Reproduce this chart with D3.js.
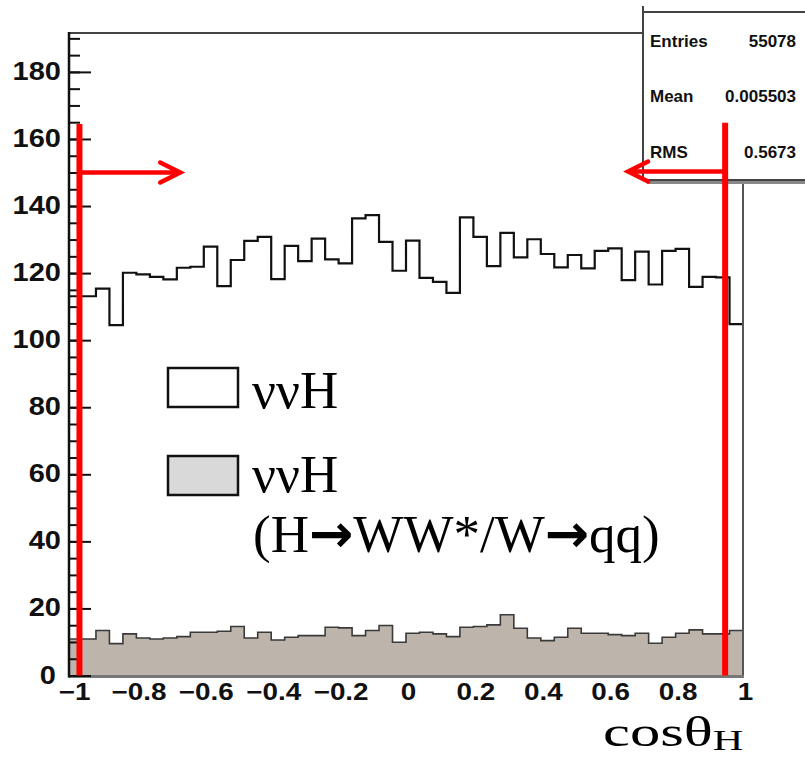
<!DOCTYPE html>
<html>
<head>
<meta charset="utf-8">
<script src="https://cdn.jsdelivr.net/npm/d3@7"></script>
<style>
  body { margin: 0; background: #fff; }
  svg { display: block; }
</style>
</head>
<body>
<svg id="chart" width="805" height="758"></svg>
<script>
"use strict";

// histogram content, 50 bins on [-1, 1]
var nBins = 50;
var xRangeVals = [-1, 1];
var totalCounts = [
  113.1, 113.1, 115.4, 104.5, 120.1, 119.6, 118.9, 118.1, 121.6, 121.9,
  127.9, 116.1, 123.9, 129.6, 130.8, 118.2, 128.1, 123.6, 130.3, 124.1,
  122.9, 136.3, 137.3, 129.3, 120.7, 129.7, 118.6, 117.4, 114.1, 136.6,
  130.8, 122.1, 132.0, 124.7, 130.1, 125.7, 121.7, 125.4, 121.4, 126.6,
  127.4, 117.9, 126.4, 116.6, 126.6, 127.2, 115.9, 118.9, 118.7, 104.8
];
var signalCounts = [
  10.9, 10.9, 13.4, 9.5, 12.4, 11.2, 10.9, 11.2, 11.6, 12.9,
  12.9, 13.2, 14.6, 11.2, 12.9, 10.6, 11.4, 11.9, 11.9, 14.4,
  14.2, 11.9, 13.4, 14.9, 9.9, 12.6, 12.9, 12.4, 11.6, 14.4,
  14.6, 15.1, 18.1, 14.1, 11.2, 10.4, 11.4, 14.1, 12.6, 12.6,
  12.2, 11.9, 12.6, 9.6, 11.4, 12.6, 13.6, 12.4, 12.4, 13.4
];

var xTicks = [-1, -0.8, -0.6, -0.4, -0.2, 0, 0.2, 0.4, 0.6, 0.8, 1];
var yTicks = [0, 20, 40, 60, 80, 100, 120, 140, 160, 180];
var yMinorTicks = d3.range(0, 191, 5);

// cut annotation (red lines + arrows)
var cuts = [
  { at: -0.969, top: 164.5, arrowY: 150, arrowTo: -0.67 },
  { at: 0.947, top: 164.8, arrowY: 150.3, arrowTo: 0.659 }
];

var statsLabels = ["Entries", "Mean", "RMS"];
var statsValues = ["55078", "0.005503", "0.5673"];

var svg = d3.select("#chart");

var margin = { top: 33, left: 69, right: 62, bottom: 82 };
var width = 805 - margin.left - margin.right;   // 674
var plotBottom = 675.5;
var labelStretch = 1.16;

var x = d3.scaleLinear().domain(xRangeVals).range([margin.left, margin.left + width]);
var y = d3.scaleLinear().domain([0, 191.6]).range([plotBottom, margin.top]);

var edges = d3.range(nBins + 1).map(function (i) {
  return xRangeVals[0] + i * (xRangeVals[1] - xRangeVals[0]) / nBins;
});

function stepPoints(vals) {
  var pts = vals.map(function (v, i) { return [edges[i], v]; });
  pts.push([edges[nBins], vals[nBins - 1]]);
  return pts;
}

// signal, filled
var area = d3.area()
  .x(function (d) { return x(d[0]); })
  .y0(y(0))
  .y1(function (d) { return y(d[1]); })
  .curve(d3.curveStepAfter);

var line = d3.line()
  .x(function (d) { return x(d[0]); })
  .y(function (d) { return y(d[1]); })
  .curve(d3.curveStepAfter);

svg.append("path")
  .datum(stepPoints(signalCounts))
  .attr("d", area)
  .attr("fill", "#bdb4ac");

svg.append("path")
  .datum(stepPoints(signalCounts))
  .attr("d", line)
  .attr("fill", "none")
  .attr("stroke", "#3a3a3a")
  .attr("stroke-width", 1.6);

svg.append("path")
  .datum(stepPoints(totalCounts))
  .attr("d", line)
  .attr("fill", "none")
  .attr("stroke", "#111")
  .attr("stroke-width", 2.2);

// frame
svg.append("line")
  .attr("x1", margin.left).attr("x2", 643)
  .attr("y1", margin.top).attr("y2", margin.top)
  .attr("stroke", "#444").attr("stroke-width", 2);
svg.append("line")
  .attr("x1", x(1)).attr("x2", x(1))
  .attr("y1", 183).attr("y2", plotBottom)
  .attr("stroke", "#555").attr("stroke-width", 2);
svg.append("line")
  .attr("x1", margin.left).attr("x2", x(1) + 1)
  .attr("y1", plotBottom + 1).attr("y2", plotBottom + 1)
  .attr("stroke", "#777").attr("stroke-width", 3);

// y axis
var yMinor = svg.append("g")
  .attr("transform", "translate(" + margin.left + ",0)")
  .call(d3.axisRight(y).tickValues(yMinorTicks).tickSize(11).tickFormat(""));
yMinor.select(".domain").remove();
yMinor.selectAll(".tick line").attr("stroke", "#111").attr("stroke-width", 2);

var yAxis = svg.append("g")
  .attr("transform", "translate(" + margin.left + ",0)")
  .call(d3.axisLeft(y).tickValues(yTicks).tickSizeInner(-22).tickSizeOuter(0)
    .tickPadding(7).tickFormat(d3.format("d")));
yAxis.select(".domain").remove();
yAxis.selectAll(".tick line").attr("stroke", "#111").attr("stroke-width", 2);
yAxis.selectAll(".tick text")
  .attr("font-family", "Liberation Sans, Arial, sans-serif")
  .attr("font-weight", "bold")
  .attr("font-size", 25)
  .attr("fill", "#111")
  .attr("dy", "0.3em")
  .attr("transform", "scale(" + labelStretch + ",1)");
// the zero label sits a little further left, clear of the "-1" below it
yAxis.selectAll(".tick text")
  .filter(function (d) { return d === 0; })
  .attr("x", -7 - 5 / labelStretch);

svg.append("line")
  .attr("x1", margin.left).attr("x2", margin.left)
  .attr("y1", margin.top - 1).attr("y2", plotBottom + 2)
  .attr("stroke", "#111").attr("stroke-width", 2.5);

// x axis labels
var xAxis = svg.append("g")
  .attr("transform", "translate(2," + plotBottom + ")")
  .call(d3.axisBottom(x).tickValues(xTicks).tickSize(0).tickPadding(7)
    .tickFormat(d3.format("~g")));
xAxis.select(".domain").remove();
xAxis.selectAll(".tick text")
  .attr("font-family", "Liberation Sans, Arial, sans-serif")
  .attr("font-weight", "bold")
  .attr("font-size", 24)
  .attr("fill", "#111")
  .attr("dy", "0.75em")
  .attr("transform", "scale(" + labelStretch + ",1)");
xAxis.selectAll(".tick text")
  .filter(function (d) { return d === -1; })
  .attr("x", 3 / labelStretch);

// x title
var title = svg.append("text")
  .attr("transform", "translate(603,746) scale(1.41,1)")
  .attr("font-family", "Liberation Serif, Times New Roman, serif")
  .attr("font-size", 43)
  .attr("fill", "#000");
title.append("tspan").text("cosθ");
title.append("tspan").attr("font-size", 30).attr("dy", 4).text("H");

// stats box
svg.append("rect")
  .attr("x", 647).attr("y", 16).attr("width", 200).attr("height", 168)
  .attr("fill", "#888");
svg.append("rect")
  .attr("x", 643).attr("y", 12).attr("width", 200).attr("height", 168)
  .attr("fill", "#fff").attr("stroke", "#444").attr("stroke-width", 2);
svg.append("line")
  .attr("x1", 643).attr("x2", 643).attr("y1", 6).attr("y2", 12)
  .attr("stroke", "#444").attr("stroke-width", 2);

var statsY = [47, 102, 158];
statsLabels.forEach(function (lab, i) {
  svg.append("text")
    .attr("x", 650).attr("y", statsY[i])
    .attr("font-family", "Liberation Sans, Arial, sans-serif")
    .attr("font-weight", "bold").attr("font-size", 17)
    .attr("fill", "#111")
    .text(lab);
  svg.append("text")
    .attr("x", 796).attr("y", statsY[i])
    .attr("text-anchor", "end")
    .attr("font-family", "Liberation Sans, Arial, sans-serif")
    .attr("font-weight", "bold").attr("font-size", 17)
    .attr("fill", "#111")
    .text(statsValues[i]);
});

// legend
svg.append("rect")
  .attr("x", 168).attr("y", 368).attr("width", 70).attr("height", 39)
  .attr("fill", "#fff").attr("stroke", "#111").attr("stroke-width", 2.5);
svg.append("rect")
  .attr("x", 168).attr("y", 456).attr("width", 70).attr("height", 39)
  .attr("fill", "#d9d9d9").attr("stroke", "#111").attr("stroke-width", 2.5);

function legendText(tx, ty) {
  return svg.append("text")
    .attr("x", tx).attr("y", ty)
    .attr("font-family", "Liberation Serif, Times New Roman, serif")
    .attr("font-size", 53)
    .attr("fill", "#000");
}
legendText(252, 408).text("ννH");
legendText(252, 492).text("ννH");
var decay = legendText(253, 552);
decay.append("tspan").text("(H");
decay.append("tspan").attr("font-family", "DejaVu Sans, sans-serif").attr("font-weight", "bold").text("→");
decay.append("tspan").text("WW*/W");
decay.append("tspan").attr("font-family", "DejaVu Sans, sans-serif").attr("font-weight", "bold").text("→");
decay.append("tspan").text("qq)");

// red cut lines and arrows
cuts.forEach(function (c) {
  svg.append("line")
    .attr("x1", x(c.at)).attr("x2", x(c.at))
    .attr("y1", y(c.top)).attr("y2", plotBottom)
    .attr("stroke", "#ff0000").attr("stroke-width", 6);
  svg.append("line")
    .attr("x1", x(c.at)).attr("x2", x(c.arrowTo))
    .attr("y1", y(c.arrowY)).attr("y2", y(c.arrowY))
    .attr("stroke", "#ff0000").attr("stroke-width", 4.5);
  var dir = c.arrowTo > c.at ? -1 : 1;
  var tx = x(c.arrowTo), ty = y(c.arrowY);
  svg.append("path")
    .attr("d", "M" + (tx + dir * 20) + "," + (ty - 10) + "L" + tx + "," + ty +
      "L" + (tx + dir * 20) + "," + (ty + 10))
    .attr("fill", "none")
    .attr("stroke", "#ff0000").attr("stroke-width", 4.5)
    .attr("stroke-linecap", "round").attr("stroke-linejoin", "miter");
});
</script>
</body>
</html>
